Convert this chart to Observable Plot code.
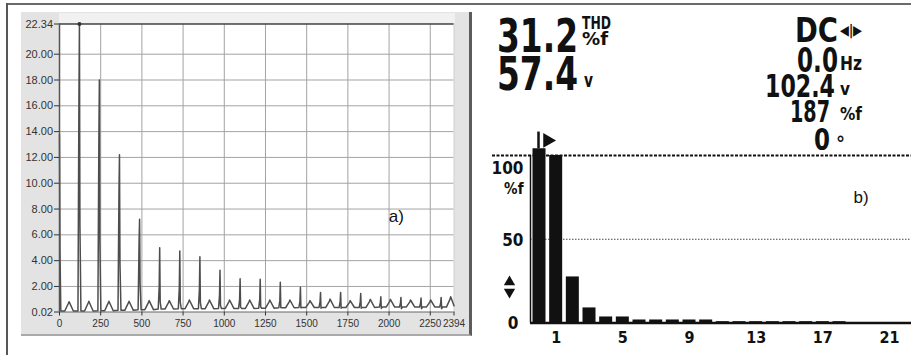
<!DOCTYPE html>
<html><head><meta charset="utf-8">
<script src="https://cdn.jsdelivr.net/npm/d3@7"></script>
<script src="https://cdn.jsdelivr.net/npm/@observablehq/plot@0.6"></script>
<style>
html,body{margin:0;padding:0;background:#fff;}
#root{position:relative;width:911px;height:355px;overflow:hidden;background:#fff;}
#root > *{position:absolute;}
</style></head><body><div id="root"></div>
<script>
// ---------- Panel a) : amplitude spectrum (read from picture) ----------
const xTicks = [0, 250, 500, 750, 1000, 1250, 1500, 1750, 2000, 2250, 2394];
const yTicks = [0.02, 2, 4, 6, 8, 10, 12, 14, 16, 18, 20, 22.34];
const spikeFreq = [0, 121, 242, 364, 486, 608, 730, 852, 974, 1096, 1218, 1340, 1462, 1584, 1706, 1828, 1950, 2072, 2194, 2316];
const spikePeak = [13.8, 22.34, 18.0, 12.2, 7.2, 5.0, 4.75, 4.3, 3.25, 2.6, 2.55, 2.33, 1.93, 1.54, 1.54, 1.46, 1.2, 1.15, 1.1, 1.15];
const spikeShoulder = [4.7, 16.7, 13.5, 9.4, 5.5, 2.0, 1.9, 1.8, 1.3, 1.0, 1.0, 0.9, 0.85, 0.8, 0.8, 0.8, 0.75, 0.7, 0.7, 0.7];
const humpFreq = [58, 178, 300, 422, 544, 666, 788, 910, 1032, 1154, 1276, 1398, 1520, 1642, 1764, 1886, 2008, 2130, 2252, 2374];
const humpPeak = [0.82, 0.85, 0.85, 0.85, 0.9, 0.9, 0.95, 0.95, 0.95, 0.95, 0.95, 0.95, 0.9, 1.02, 0.9, 1.0, 1.0, 0.95, 0.95, 1.2];
const valleyLevel = [0.1, 0.1, 0.12, 0.15, 0.2, 0.25, 0.28, 0.28, 0.3, 0.3, 0.32, 0.35, 0.37, 0.37, 0.37, 0.37, 0.4, 0.4, 0.4, 0.4];

// ---------- Panel b) : harmonic bar display ----------
const harmonics = [0,1,2,3,4,5,6,7,8,9,10,11,12,13,14,15,16,17,18,19,20,21,22];
const harmonicPct = [187,100,27.5,9,3.6,3.6,1.8,1.8,1.8,1.8,1.8,0.8,0.8,0.8,0.8,0.8,0.8,0.8,0.8,0,0,0,0];
const barTicks = [1,5,9,13,17,21];

// build spectrum vertices from the read values
const spectrum = [];
for (let k = 0; k < spikeFreq.length; k++) {
  const f = spikeFreq[k], val = valleyLevel[k];
  if (k === 0) {
    spectrum.push({f: 0, v: spikePeak[0]}, {f: 3, v: spikeShoulder[0]}, {f: 8, v: val});
  } else {
    spectrum.push({f: f - 9, v: val}, {f: f - 3, v: spikeShoulder[k]}, {f: f, v: spikePeak[k]},
                  {f: f + 3, v: spikeShoulder[k] * 0.4}, {f: f + 9, v: val});
  }
  const h = humpFreq[k];
  spectrum.push({f: h - 26, v: val}, {f: h - 4, v: humpPeak[k] * 0.85}, {f: h, v: humpPeak[k]});
  if (h + 26 <= 2394) spectrum.push({f: h + 26, v: val}); else spectrum.push({f: 2394, v: 0.5});
}
const bars = harmonics.map((h, i) => ({h, v: harmonicPct[i]}));

const root = document.getElementById("root");
function box(l, t, w, h, css) {
  const d = document.createElement("div");
  d.style.cssText = `left:${l}px;top:${t}px;width:${w}px;height:${h}px;` + css;
  root.appendChild(d);
}
// widget panel decoration
box(21, 12, 448, 322, "background:#e3e3e3;border-right:3px solid #5c5c5c;border-bottom:2px solid #a9a9a9;");
box(59, 13, 396, 10, "background:#f1f1f1;");
box(6, 3, 905, 2, "background:#6a6a6a;");
box(6, 3, 2, 352, "background:#575757;");

const left = Plot.plot({
  width: 480, height: 340,
  marginLeft: 59, marginRight: 26.5, marginTop: 23.5, marginBottom: 28.5,
  x: {domain: [0, 2394]},
  y: {domain: [0.02, 22.34]},
  style: {background: "transparent", fontFamily: "'Liberation Sans', Arial, sans-serif", color: "#333"},
  marks: [
    Plot.frame({fill: "white", stroke: null}),
    Plot.ruleX(xTicks.slice(1, -1), {stroke: "#a3a3a3", strokeWidth: 1}),
    Plot.ruleY(yTicks.slice(1, -1), {stroke: "#a3a3a3", strokeWidth: 1}),
    Plot.ruleX([2394], {stroke: "#cfcfcf"}),
    Plot.ruleY([0.02], {stroke: "#666", strokeWidth: 1.2}),
    Plot.line(spectrum, {x: "f", y: "v", stroke: "#4d4d4d", strokeWidth: 1.5}),
    Plot.ruleY([22.34], {stroke: "#444", strokeWidth: 1.6}),
    Plot.ruleX([0], {stroke: "#555", strokeWidth: 1.5}),
    Plot.dot([{f: 121, v: 22.34}], {x: "f", y: "v", r: 2, fill: "#333", stroke: null}),
    Plot.axisX({ticks: xTicks, tickSize: 4, tickPadding: 4, fontSize: 10, tickFormat: d => String(d), label: null, stroke: "#333"}),
    Plot.axisY({ticks: yTicks, tickSize: 5, tickPadding: 1.5, fontSize: 11, tickFormat: d3.format(".2f"), label: null, stroke: "#333"}),
    Plot.text([{f: 2044, v: 7.4, t: "a)"}], {x: "f", y: "v", text: "t", fontSize: 17, fill: "#111"})
  ]
});
left.style.left = "0px"; left.style.top = "0px";
root.appendChild(left);

const lcd = "'DejaVu Sans Condensed', 'DejaVu Sans', sans-serif";
const right = Plot.plot({
  width: 431, height: 355,
  marginLeft: 50, marginRight: 0, marginTop: 148.3, marginBottom: 32.5,
  x: {domain: [-0.54, 22.32]},
  y: {domain: [0, 104], axis: null},
  style: {background: "transparent", fontFamily: lcd, color: "#111"},
  marks: [
    Plot.ruleY([50], {stroke: "#444", strokeWidth: 1, strokeDasharray: "1.5,1.5"}),
    Plot.rectY(bars, {x1: d => d.h - 0.39, x2: d => d.h + 0.39, y: "v", fill: "#111", clip: true}),
    Plot.ruleY([100], {stroke: "#111", strokeWidth: 2, strokeDasharray: "3,1.5", insetLeft: -38}),
    Plot.ruleX([-0.54], {y1: 0, y2: 100, stroke: "#111", strokeWidth: 1.5}),
    Plot.ruleY([0], {stroke: "#111", strokeWidth: 2.5}),
    Plot.axisX({ticks: barTicks, tickSize: 0, tickPadding: 9, fontSize: 16, fontWeight: "bold", label: null}),
    Plot.text([{y: 100, t: "100"}], {y: "y", text: "t", frameAnchor: "left", dx: -7, dy: 13.5, textAnchor: "end", fontSize: 17, fontWeight: "bold"}),
    Plot.text([{y: 100, t: "%f"}], {y: "y", text: "t", frameAnchor: "left", dx: -7, dy: 34, textAnchor: "end", fontSize: 15, fontWeight: "bold"}),
    Plot.text([{y: 50, t: "50"}], {y: "y", text: "t", frameAnchor: "left", dx: -7, dy: 1, textAnchor: "end", fontSize: 17, fontWeight: "bold"}),
    Plot.text([{y: 0, t: "0"}], {y: "y", text: "t", frameAnchor: "left", dx: -12, dy: 1, textAnchor: "end", fontSize: 17, fontWeight: "bold"}),
    Plot.dot([{x: -0.9, y: 24.5}], {x: "x", y: "y", frameAnchor: "left", dx: -15, symbol: "triangle", r: 4.2, fill: "#111", stroke: null}),
    Plot.dot([{x: -0.9, y: 18.5}], {x: "x", y: "y", frameAnchor: "left", dx: -15, symbol: "triangle", rotate: 180, r: 4.2, fill: "#111", stroke: null}),
    Plot.ruleX([{x: -0.06}], {x: "x", y1: 104, y2: 114, stroke: "#111", strokeWidth: 2.5}),
    Plot.dot([{x: 0.48, y: 109}], {x: "x", y: "y", symbol: "triangle", rotate: 90, r: 5.5, fill: "#111", stroke: null}),
    Plot.text([{x: 19.3, y: 75, t: "b)"}], {x: "x", y: "y", text: "t", fontSize: 17, fontFamily: "'Liberation Sans', Arial, sans-serif", fill: "#111"})
  ]
});
right.style.left = "480px"; right.style.top = "0px";
root.appendChild(right);

// ---------- meter readouts (text overlay) ----------
const readouts = [
  {t: "31.2", x: 497, b: 52, w: 81, fs: 46},
  {t: "THD", x: 582, b: 29, w: 29, fs: 17},
  {t: "%f", x: 582, b: 45, w: 26, fs: 18},
  {t: "57.4", x: 497, b: 90, w: 81, fs: 46},
  {t: "v", x: 584, b: 87, w: 9, fs: 20},
  {t: "DC", x: 795, b: 42, w: 43, fs: 33},
  {t: "◀|▶", x: 840, b: 35, w: 22, fs: 14},
  {t: "0.0", x: 797, b: 72, w: 41, fs: 33},
  {t: "Hz", x: 840, b: 70, w: 22, fs: 19},
  {t: "102.4", x: 765, b: 97, w: 70, fs: 32},
  {t: "v", x: 840, b: 95, w: 10, fs: 18},
  {t: "187", x: 790, b: 122, w: 40, fs: 31},
  {t: "%f", x: 840, b: 120, w: 22, fs: 18},
  {t: "0", x: 814, b: 150, w: 16, fs: 31},
  {t: "°", x: 836, b: 150, w: 9, fs: 20}
];
const ov = d3.create("svg").attr("width", 911).attr("height", 355)
  .style("left", "0px").style("top", "0px").style("pointer-events", "none");
ov.selectAll("text").data(readouts).join("text")
  .attr("x", d => d.x).attr("y", d => d.b)
  .attr("textLength", d => d.w).attr("lengthAdjust", "spacingAndGlyphs")
  .attr("font-family", lcd).attr("font-size", d => d.fs).attr("font-weight", "bold")
  .attr("fill", "#111").text(d => d.t);
root.appendChild(ov.node());
</script></body></html>
